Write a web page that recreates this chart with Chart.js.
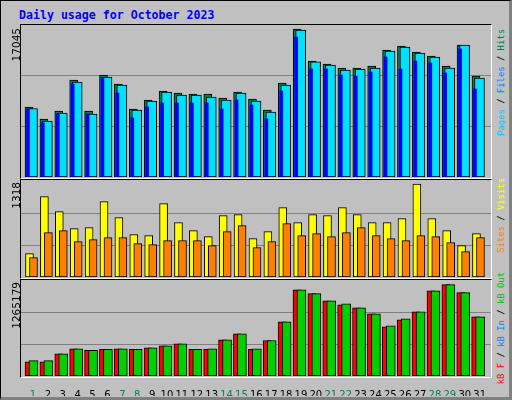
<!DOCTYPE html>
<html><head><meta charset="utf-8">
<script src="https://cdn.jsdelivr.net/npm/chart.js@4"></script>
<style>
body{margin:0;background:#fff;}
#wrap{position:absolute;left:0;top:0;width:508px;height:396px;background:#c0c0c0;border:1px solid #000;border-right:3px solid #808080;border-bottom:3px solid #808080;}
.frame{position:absolute;border-top:1px solid #000;border-left:1px solid #000;border-right:1px solid #fff;border-bottom:1px solid #fff;box-sizing:border-box;}
canvas{position:absolute;}
.vt{position:absolute;writing-mode:vertical-rl;transform:rotate(180deg);white-space:nowrap;}
.num{font:10.5px "DejaVu Sans";color:#000;}
.leg{font:8.9px "DejaVu Sans Mono";color:#000;}
#title{position:absolute;left:19px;top:8px;font:bold 11.6px "DejaVu Sans Mono";color:#0000ff;}
</style></head><body>
<div id="wrap"></div>
<div id="title">Daily usage for October 2023</div>
<div class="frame" style="left:20px;top:24px;width:472px;height:155px"></div>
<div class="frame" style="left:20px;top:179px;width:472px;height:100px"></div>
<div class="frame" style="left:20px;top:279px;width:472px;height:99px"></div>
<canvas id="c1" style="left:21px;top:25px"></canvas>
<canvas id="c2" style="left:21px;top:181px"></canvas>
<canvas id="c3" style="left:21px;top:281px"></canvas>
<div class="vt num" style="left:10px;top:28px">17045</div>
<div class="vt num" style="left:10px;top:182px">1318</div>
<div class="vt num" style="left:10px;top:282px">1265179</div>
<div class="vt leg" style="left:496px;top:29px"><span style="color:#00c0ff">Pages</span> / <span style="color:#0080ff">Files</span> / <span style="color:#008050">Hits</span></div>
<div class="vt leg" style="left:496px;top:178px"><span style="color:#ff8000">Sites</span> / <span style="color:#ffff00">Visits</span></div>
<div class="vt leg" style="left:496px;top:272px"><span style="color:#ff0000">kB F</span> / <span style="color:#0080ff">kB In</span> / <span style="color:#00c000">kB Out</span></div>
<script>
const days = Array.from({length:31},(_, i)=>i+1);
const weekendDays = [1,7,8,14,15,21,22,28,29];
const hits  = [8064,6680,7600,11170,7600,11750,10710,7830,8870,9900,9670,9560,9560,9100,9790,8980,7720,10830,17045,13360,13010,12550,12550,12780,14630,15090,14400,13940,12780,15200,11630];
const files = [7890,6450,7370,10940,7260,11520,10600,7720,8750,9790,9440,9440,9210,8870,9670,8750,7490,10600,16930,13250,12900,12320,12440,12550,14510,14970,14280,13820,12550,15200,11400];
const pages = [7830,6220,7260,10710,7260,11400,9670,6800,8060,8520,8520,8520,8520,7830,8870,8290,6680,9900,16120,12440,12440,11750,11630,12090,13820,12440,13360,13130,11980,14750,10140];
const visits = [331,1138,926,685,699,1068,841,600,586,1039,771,657,572,869,883,543,642,983,771,883,869,983,883,771,771,827,1318,827,657,444,614];
const sites  = [274,628,657,501,529,557,557,472,458,515,515,515,444,642,727,416,501,756,586,614,572,628,699,586,543,515,586,572,487,359,557];
const kbF   = [197800,197800,308000,377000,354000,368000,377000,368000,391000,419000,446000,368000,368000,501000,584000,368000,492000,750000,1192000,1141000,1040000,985000,943000,860000,681000,778000,888000,1178000,1265179,1155000,819000];
const kbOut = [212000,212000,308000,377000,354000,368000,377000,368000,391000,419000,446000,368000,377000,501000,584000,377000,492000,750000,1192000,1141000,1040000,998000,943000,860000,695000,791000,888000,1178000,1265179,1155000,819000];
const yMax1 = 17505, yMax2 = 1360, yMax3 = 1315800;

const DAYPX = 14.9;
function pts(vals, offPx){ return vals.map((v,i)=>({x:days[i]+offPx/DAYPX, y:v})); }
function bar(label, vals, offPx, w, color, order, bw){
  return {label, data:pts(vals,offPx), backgroundColor:color, borderColor:'#000', borderWidth:bw===undefined?1:bw,
    borderSkipped:false, barThickness:w, grouped:false, order};
}
function xAxis(show){
  return {type:'linear', min:0.195, max:31.74, display:show, offset:false,
    grid:{display:false}, border:{display:false},
    afterBuildTicks:s=>{s.ticks=days.map(d=>({value:d}));},
    afterFit:s=>{ if(show) s.height=20; },
    ticks:{autoSkip:false, maxRotation:0, padding:5, font:{family:'DejaVu Sans',size:10},
      color:c=>weekendDays.includes(c.tick.value)?'#008060':'#000', callback:v=>String(v)}};
}
function yAxis(M){
  return {min:0, max:M, afterFit:s=>{s.width=0;}, border:{display:false},
    afterBuildTicks:s=>{s.ticks=[{value:M/3},{value:2*M/3}];},
    ticks:{display:false}, grid:{color:'#808080', lineWidth:1, drawTicks:false}};
}
function make(id, w, h, datasets, M, showX){
  const cv=document.getElementById(id); cv.width=w; cv.height=h; cv.style.width=w+'px'; cv.style.height=h+'px';
  new Chart(cv,{type:'bar', data:{datasets},
    options:{responsive:false, animation:false, layout:{padding:0},
      plugins:{legend:{display:false}, tooltip:{enabled:false}}, scales:{x:xAxis(showX), y:yAxis(M)}}});
}
make('c1',470,152,[
  bar('Hits',hits,-4,8,'#008050',3),
  bar('Files',files,-0.5,10,'#00e0ff',2),
  bar('Pages',pages,-5,3,'#0000ff',1,0)
],yMax1,false);
make('c2',470,96,[
  bar('Visits',visits,-3.5,8,'#ffff00',2),
  bar('Sites',sites,0.5,8,'#ff8000',1)
],yMax2,false);
make('c3',470,115,[
  bar('kB F',kbF,-4,8,'#ff0000',2),
  bar('kB Out',kbOut,0.5,9,'#00d000',1)
],yMax3,true);
</script>
</body></html>
